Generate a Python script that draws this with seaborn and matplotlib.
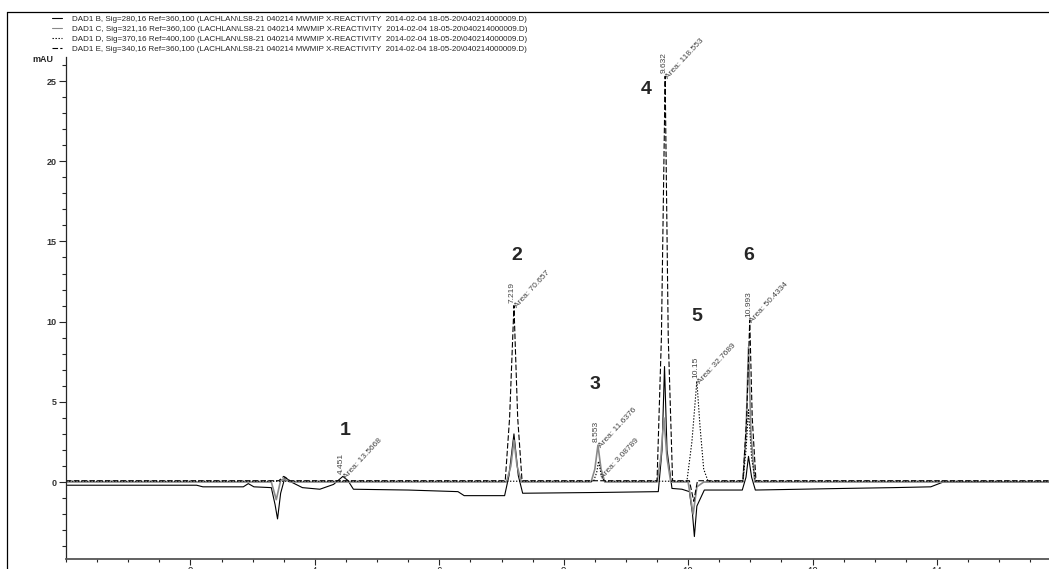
import pandas as pd
import matplotlib.pyplot as plt
import seaborn as sns
from matplotlib.lines import Line2D
from matplotlib.ticker import MultipleLocator

# chromatogram traces, (time min, mAU)
trace_b = [(0.0, -0.2), (2.1, -0.2), (2.2, -0.3), (2.85, -0.3), (2.93, -0.1), (3.02, -0.3),
           (3.3, -0.35), (3.36, -1.4), (3.4, -2.3), (3.45, -0.7), (3.52, 0.3), (3.62, 0.0),
           (3.8, -0.35), (4.08, -0.45), (4.3, -0.15), (4.45, 0.35), (4.53, 0.1), (4.62, -0.45),
           (5.5, -0.5), (6.3, -0.6), (6.4, -0.85), (7.05, -0.85), (7.12, 0.4), (7.2, 3.0),
           (7.27, 0.4), (7.34, -0.7), (8.6, -0.65), (9.52, -0.6), (9.58, 2.0), (9.62, 7.2),
           (9.66, 2.0), (9.74, -0.4), (9.9, -0.45), (10.02, -0.6), (10.07, -2.0), (10.1, -3.4),
           (10.14, -1.5), (10.26, -0.5), (10.87, -0.5), (10.93, 0.3), (10.97, 1.6), (11.02, 0.3),
           (11.08, -0.5), (11.8, -0.45), (12.5, -0.4), (13.3, -0.35), (13.9, -0.3), (14.1, 0.0),
           (15.8, 0.0)]
trace_c = [(0.0, 0.0), (3.3, 0.0), (3.38, -1.1), (3.45, 0.1), (3.5, 0.2), (3.6, 0.0),
           (7.08, 0.0), (7.15, 1.0), (7.2, 2.6), (7.25, 1.0), (7.32, 0.0), (8.44, 0.0),
           (8.5, 0.8), (8.55, 2.3), (8.6, 0.8), (8.66, 0.0), (9.5, 0.0), (9.56, 1.5),
           (9.61, 4.0), (9.66, 1.5), (9.72, 0.0), (10.0, 0.0), (10.08, -2.0), (10.14, -0.3),
           (10.25, 0.0), (10.88, 0.0), (10.93, 3.0), (10.97, 8.4), (11.01, 3.0), (11.07, 0.0),
           (15.8, 0.0)]
trace_d = [(0.0, 0.05), (8.48, 0.05), (8.53, 0.6), (8.56, 1.3), (8.6, 0.5), (8.65, 0.05),
           (9.98, 0.05), (10.06, 2.5), (10.14, 6.3), (10.19, 3.5), (10.25, 0.8), (10.32, 0.05),
           (10.88, 0.05), (10.93, 2.0), (10.97, 4.5), (11.02, 1.5), (11.08, 0.05), (15.8, 0.05)]
trace_e = [(0.0, 0.08), (3.42, 0.08), (3.5, 0.35), (3.6, 0.08), (7.06, 0.08), (7.13, 4.0),
           (7.2, 11.0), (7.26, 4.0), (7.33, 0.08), (9.5, 0.08), (9.57, 9.0), (9.63, 25.3),
           (9.68, 9.0), (9.75, 0.08), (10.02, 0.08), (10.09, -1.2), (10.15, 0.08), (10.88, 0.08),
           (10.94, 4.0), (10.99, 10.1), (11.03, 4.0), (11.09, 0.08), (15.8, 0.08)]

run = r"(LACHLAN\LS8-21 040214 MWMIP X-REACTIVITY  2014-02-04 18-05-20\040214000009.D)"
signals = ["DAD1 B, Sig=280,16 Ref=360,100 " + run,
           "DAD1 C, Sig=321,16 Ref=360,100 " + run,
           "DAD1 D, Sig=370,16 Ref=400,100 " + run,
           "DAD1 E, Sig=340,16 Ref=360,100 " + run]

# integrated peaks
peak_rt = ["4.451", "7.219", "8.553", "9.632", "10.15", "10.993"]
peak_area = ["13.5668", "70.657", "11.6376", "118.553", "32.7689", "50.4334"]
peak_t = [4.45, 7.2, 8.55, 9.63, 10.14, 10.99]
peak_v = [0.35, 11.0, 2.3, 25.3, 6.3, 10.1]
peak_no = ["1", "2", "3", "4", "5", "6"]
x_ticks = [2, 4, 6, 8, 10, 12, 14]

rows = []
for name, tr in zip(signals, [trace_b, trace_c, trace_d, trace_e]):
    for t, v in tr:
        rows.append({"time": t, "mAU": v, "signal": name})
df = pd.DataFrame(rows)

sns.set_style("ticks")
plt.rcParams['font.family'] = ['Liberation Sans', 'DejaVu Sans']

fig = plt.figure(figsize=(10.49, 5.69), dpi=100)
ax = fig.add_axes([66 / 1049, 1 - 559 / 569, 1 - 66 / 1049, (559 - 57) / 569])

sns.lineplot(data=df, x="time", y="mAU", hue="signal", style="signal",
             palette=dict(zip(signals, ["black", "#8a8a8a", "black", "black"])),
             dashes=dict(zip(signals, ["", "", (1.2, 1.5), (5, 2)])),
             estimator=None, sort=False, linewidth=0.8, ax=ax)
ax.lines[1].set_linewidth(1.2)

ax.set_xlim(0, 15.8)
ax.set_ylim(-4.8, 26.5)
ax.set_xticks(x_ticks)
ax.xaxis.set_minor_locator(MultipleLocator(0.5))
ax.yaxis.set_major_locator(MultipleLocator(5))
ax.yaxis.set_minor_locator(MultipleLocator(1))
ax.tick_params(axis="y", which="major", length=5, width=0.8, labelsize=6.5, pad=2)
ax.tick_params(axis="y", which="minor", length=3, width=0.8)
ax.tick_params(axis="x", which="major", length=4, width=0.8, labelsize=7, pad=1.5)
ax.tick_params(axis="x", which="minor", length=2.5, width=0.8)
for lab in ax.get_yticklabels():
    lab.set_fontweight("bold")
    lab.set_color("#333333")
ax.set_xlabel("")
ax.set_ylabel("")
sns.despine(ax=ax)
ax.spines["left"].set_linewidth(0.9)
ax.spines["bottom"].set_linewidth(1.3)
ax.spines["bottom"].set_color("#555555")

for rt, area, t, v in zip(peak_rt, peak_area, peak_t, peak_v):
    ax.annotate(rt, xy=(t, v), xytext=(-1, 2), textcoords="offset points", rotation=90,
                ha="center", va="bottom", fontsize=6, color="#444444")
    ax.annotate("Area: " + area, xy=(t, v), xytext=(3, -3), textcoords="offset points",
                rotation=47, rotation_mode="anchor", ha="left", va="bottom",
                fontsize=6, color="#444444")
ax.annotate("Area: 3.08789", xy=(8.58, 0.1), xytext=(3, 0), textcoords="offset points",
            rotation=47, rotation_mode="anchor", ha="left", va="bottom",
            fontsize=6, color="#444444")

num_pos = [(4.48, 3.2), (7.24, 14.1), (8.51, 6.1), (9.32, 24.5), (10.14, 10.35), (10.97, 14.1)]
for n, (x, y) in zip(peak_no, num_pos):
    ax.text(x, y, n, ha="center", va="center", fontsize=14, fontweight="bold")

handles, labels = ax.get_legend_handles_labels()
ax.legend(handles, labels, loc="upper left", bbox_to_anchor=(48 / 1049, 1 - 11 / 569),
          bbox_transform=fig.transFigure, frameon=False, fontsize=5.8,
          handlelength=1.2, handletextpad=1.3, labelspacing=0.32, borderpad=0)

fig.text(43 / 1049, 1 - 60 / 569, "mAU", ha="center", va="center", fontsize=6.5,
         fontweight="bold")
fig.add_artist(Line2D([7 / 1049, 7 / 1049], [0, 1 - 12 / 569], color="black", lw=0.9))
fig.add_artist(Line2D([7 / 1049, 1], [1 - 12 / 569, 1 - 12 / 569], color="black", lw=0.9))

fig.savefig("out.png", dpi=100)
